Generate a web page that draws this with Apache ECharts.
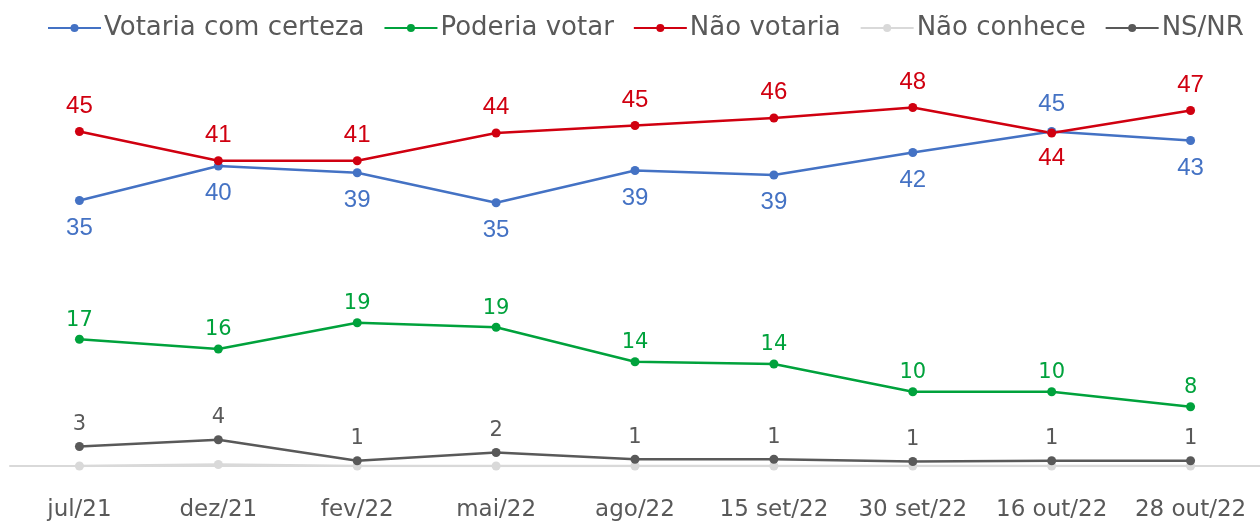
<!DOCTYPE html>
<html>
<head>
<meta charset="utf-8">
<script src="https://cdn.jsdelivr.net/npm/echarts@6/dist/echarts.min.js"></script>
<style>html,body{margin:0;padding:0;background:#fff}#c{width:1260px;height:527px}</style>
</head>
<body>
<div id="c"></div>
<script>
const categories = ['jul/21','dez/21','fev/22','mai/22','ago/22','15 set/22','30 set/22','16 out/22','28 out/22'];
const votariaCerteza = [35.4, 40.0, 39.1, 35.1, 39.4, 38.8, 41.8, 44.6, 43.4];
const poderiaVotar   = [16.9, 15.6, 19.1, 18.5, 13.9, 13.6, 9.9, 9.9, 7.9];
const naoVotaria     = [44.6, 40.7, 40.7, 44.4, 45.4, 46.4, 47.8, 44.4, 47.4];
const naoConhece     = [0, 0.2, 0, 0, 0, 0, 0, 0, 0];
const nsNr           = [2.6, 3.5, 0.7, 1.8, 0.9, 0.9, 0.6, 0.7, 0.7];

// label positions for the two upper series (top / bottom per point)
const votariaLabelPos = ['bottom','bottom','bottom','bottom','bottom','bottom','bottom','top','bottom'];
const naoVotariaLabelPos = ['top','top','top','top','top','top','top','bottom','top'];

const textFont = 'DejaVu Sans';
const numFont = 'Liberation Sans';
const fmt = p => Math.round(p.value);

function withPos(vals, pos) {
  return vals.map((v, i) => ({ value: v, label: { position: pos[i] } }));
}

const chart = echarts.init(document.getElementById('c'));
chart.setOption({
  animation: false,
  legend: {
    top: 10,
    left: 42,
    itemWidth: 53,
    itemHeight: 10,
    itemGap: 19,
    textStyle: { fontFamily: textFont, fontSize: 26, color: '#595959', padding: [0,0,0,-2] },
    data: ['Votaria com certeza','Poderia votar','Não votaria','Não conhece','NS/NR']
  },
  grid: { left: 10, right: -1, top: 61, height: 405 },
  xAxis: {
    type: 'category',
    data: categories,
    boundaryGap: true,
    axisLine: { lineStyle: { color: '#D9D9D9', width: 2 } },
    axisTick: { show: false },
    axisLabel: { interval: 0, fontFamily: textFont, fontSize: 23, color: '#595959', margin: 33 }
  },
  yAxis: {
    type: 'value', min: 0, max: 54,
    show: false,
    splitLine: { show: false }
  },
  series: [
    {
      name: 'Votaria com certeza', type: 'line', data: withPos(votariaCerteza, votariaLabelPos),
      color: '#4472C4', symbol: 'circle', symbolSize: 9, lineStyle: { width: 2.5 },
      label: { show: true, formatter: fmt, distance: 11, fontFamily: numFont, fontSize: 24, color: '#4472C4' }
    },
    {
      name: 'Poderia votar', type: 'line', data: poderiaVotar,
      color: '#00A23C', symbol: 'circle', symbolSize: 9, lineStyle: { width: 2.5 },
      label: { show: true, position: 'top', formatter: fmt, distance: 4, fontFamily: textFont, fontSize: 21, color: '#00A23C' }
    },
    {
      name: 'Não votaria', type: 'line', data: withPos(naoVotaria, naoVotariaLabelPos),
      color: '#D00010', symbol: 'circle', symbolSize: 9, lineStyle: { width: 2.5 },
      label: { show: true, formatter: fmt, distance: 9, fontFamily: numFont, fontSize: 24, color: '#D00010' }
    },
    {
      name: 'Não conhece', type: 'line', data: naoConhece,
      color: '#D9D9D9', symbol: 'circle', symbolSize: 9, lineStyle: { width: 2.5 },
      label: { show: false }
    },
    {
      name: 'NS/NR', type: 'line', data: nsNr,
      color: '#595959', symbol: 'circle', symbolSize: 9, lineStyle: { width: 2.5 },
      label: { show: true, position: 'top', formatter: fmt, distance: 7, fontFamily: textFont, fontSize: 21, color: '#595959' }
    }
  ]
});
</script>
</body>
</html>
